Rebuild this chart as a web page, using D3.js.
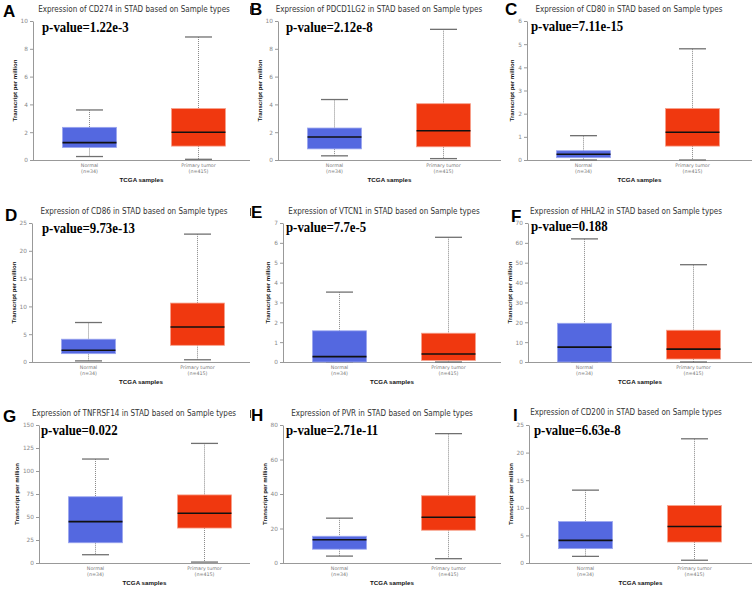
<!DOCTYPE html>
<html><head><meta charset="utf-8">
<script src="https://cdn.jsdelivr.net/npm/d3@7"></script>
<style>body{margin:0;background:#fff} svg{display:block}</style>
</head><body>
<svg id="c" width="753" height="589"></svg>
<script>
// ---------- data ----------
const panelLetters = ["A","B","C","D","E","F","G","H","I"];
const genes = ["CD274","PDCD1LG2","CD80","CD86","VTCN1","HHLA2","TNFRSF14","PVR","CD200"];
const pValues = ["1.22e-3","2.12e-8","7.11e-15","9.73e-13","7.7e-5","0.188","0.022","2.71e-11","6.63e-8"];
const yMaxes = [10,10,6,25,7,70,150,80,25];
const tickSteps = [2,2,1,5,1,10,25,20,5];
const categories = ["Normal","Primary tumor"];
const sampleSizes = ["(n=34)","(n=415)"];
// [lower whisker, Q1, median, Q3, upper whisker]
const normalStats = [
  [0.25,0.9,1.25,2.35,3.6],
  [0.3,0.8,1.65,2.3,4.35],
  [0.0,0.1,0.25,0.4,1.05],
  [0.2,1.5,2.1,4.1,7.1],
  [0.0,0.0,0.27,1.57,3.52],
  [0.0,0.0,7.5,19.5,62],
  [9,22,45,72,113],
  [4,8,13.5,15.5,26],
  [1.2,2.6,4.1,7.5,13.2]
];
const tumorStats = [
  [0.05,1.0,2.0,3.7,8.85],
  [0.1,0.95,2.1,4.05,9.4],
  [0.0,0.6,1.2,2.22,4.8],
  [0.4,3.0,6.3,10.6,23.0],
  [0.0,0.08,0.4,1.45,6.28],
  [0.0,1.5,6.5,16,49],
  [1,38,54,74,130],
  [2.5,19,26.5,39,75],
  [0.5,3.8,6.6,10.4,22.5]
];

// ---------- layout ----------
const colX = [0,251,502], colW = 250;
const rowTop = [21,223,425], rowBottom = [160,362,563];
const axisXs = [33,278,527,32,283,528,39,283,529];
const titleCX = [134,379,629,134,384,626,134,382,626];
const titleYs = [12,12,12,214,214,214,416,416,415];
const letterPos = [[3,17],[250,15],[505,15],[5,221],[251,218],[511,222],[3,422],[251,421],[513,421]];
const pvalPos = [[42,32],[286,32],[531,31],[42,233],[286,232],[531,231],[41,435],[286,435],[534,435]];
const fillColors = ["#5468e0","#f0380f"];
const strokeColors = ["#9aa5ef","#f7a08a"];

const svg = d3.select("#c");

panelLetters.forEach((letter, i) => {
  const col = i % 3, row = Math.floor(i / 3);
  const g = svg.append("g");
  const ax = axisXs[i];
  const right = colX[col] + colW;
  const top = rowTop[row], bottom = rowBottom[row];

  const y = d3.scaleLinear().domain([0, yMaxes[i]]).range([bottom, top]);
  const x = d3.scalePoint().domain(categories).range([ax + 2, ax + 220]).padding(0.5);
  const bw = x.step() * 0.495;

  // y axis
  const yAxis = g.append("g").attr("transform", `translate(${ax},0)`)
    .call(d3.axisLeft(y)
      .tickValues(d3.range(0, yMaxes[i] + tickSteps[i] / 2, tickSteps[i]))
      .tickFormat(d3.format("d"))
      .tickSize(3).tickSizeOuter(0).tickPadding(2));
  yAxis.select(".domain").attr("stroke", "#999");
  yAxis.selectAll(".tick line").attr("stroke", "#999");
  yAxis.selectAll(".tick text").attr("fill", "#888")
    .style("font-family", "DejaVu Sans, sans-serif").style("font-size", "5.8px");

  // x axis line
  g.append("line").attr("x1", ax).attr("x2", right).attr("y1", bottom + 0.5).attr("y2", bottom + 0.5)
    .attr("stroke", "#999").attr("stroke-width", 1);

  // boxes
  [normalStats[i], tumorStats[i]].forEach((s, k) => {
    const cx = x(categories[k]);
    const [lo, q1, med, q3, hi] = s;
    g.append("line").attr("x1", cx).attr("x2", cx).attr("y1", y(hi)).attr("y2", y(q3))
      .attr("stroke", "#888").attr("stroke-width", 1).attr("stroke-dasharray", "1,1");
    g.append("line").attr("x1", cx).attr("x2", cx).attr("y1", y(q1)).attr("y2", y(lo))
      .attr("stroke", "#888").attr("stroke-width", 1).attr("stroke-dasharray", "1,1");
    [lo, hi].forEach(v => {
      g.append("line").attr("x1", cx - bw / 4).attr("x2", cx + bw / 4).attr("y1", y(v)).attr("y2", y(v))
        .attr("stroke", "#707070").attr("stroke-width", 1.3);
    });
    g.append("rect").attr("x", cx - bw / 2).attr("y", y(q3))
      .attr("width", bw).attr("height", Math.max(0, y(q1) - y(q3)))
      .attr("fill", fillColors[k]).attr("stroke", strokeColors[k]).attr("stroke-width", 0.8);
    g.append("line").attr("x1", cx - bw / 2).attr("x2", cx + bw / 2).attr("y1", y(med)).attr("y2", y(med))
      .attr("stroke", "#111").attr("stroke-width", 1.6);
    g.append("text").attr("x", cx).attr("y", bottom + 7).attr("text-anchor", "middle")
      .attr("fill", "#777").style("font-family", "DejaVu Sans, sans-serif").style("font-size", "4.8px")
      .text(categories[k]);
    g.append("text").attr("x", cx).attr("y", bottom + 12.5).attr("text-anchor", "middle")
      .attr("fill", "#777").style("font-family", "DejaVu Sans, sans-serif").style("font-size", "4.8px")
      .text(sampleSizes[k]);
  });

  // axis titles
  g.append("text").attr("x", (ax + right) / 2).attr("y", bottom + 22).attr("text-anchor", "middle")
    .attr("fill", "#111").style("font-family", "Liberation Sans, Arial, sans-serif")
    .style("font-size", "6.2px").style("font-weight", "bold").text("TCGA samples");
  const bb = yAxis.node().getBBox();
  g.append("text").attr("transform", `translate(${ax + bb.x - 4},${(top + bottom) / 2}) rotate(-90)`)
    .attr("text-anchor", "middle").attr("fill", "#111")
    .style("font-family", "Liberation Sans, Arial, sans-serif")
    .style("font-size", "6.1px").style("font-weight", "bold").text("Transcript per million");

  // chart title
  const t = g.append("text").attr("x", titleCX[i]).attr("y", titleYs[i]).attr("text-anchor", "middle")
    .attr("fill", "#333").style("font-family", "DejaVu Sans, Verdana, sans-serif").style("font-size", "8.4px")
    .text(`Expression of ${genes[i]} in STAD based on Sample types`);
  const tl = t.node().getComputedTextLength();
  t.attr("textLength", tl * 0.86).attr("lengthAdjust", "spacingAndGlyphs");

  // p-value
  const p = g.append("text").attr("x", pvalPos[i][0]).attr("y", pvalPos[i][1])
    .attr("fill", "#000").style("font-family", "Liberation Serif, Times New Roman, serif")
    .style("font-size", "14.5px").style("font-weight", "bold")
    .text(`p-value=${pValues[i]}`);
  const pl = p.node().getComputedTextLength();
  p.attr("textLength", pl * 12.8 / 14.5).attr("lengthAdjust", "spacingAndGlyphs");

  // panel letter
  g.append("text").attr("x", letterPos[i][0]).attr("y", letterPos[i][1])
    .attr("fill", "#000").style("font-family", "Liberation Sans, Arial, sans-serif")
    .style("font-size", "17px").style("font-weight", "bold").text(letter);
});

// small edge marks at the right border of the left column images
rowTop.forEach((t, r) => {
  svg.append("line").attr("x1", 250.5).attr("x2", 250.5).attr("y1", titleYs[r * 3] - 6).attr("y2", titleYs[r * 3] + 2)
    .attr("stroke", "#444").attr("stroke-width", 1);
});
</script>
</body></html>
